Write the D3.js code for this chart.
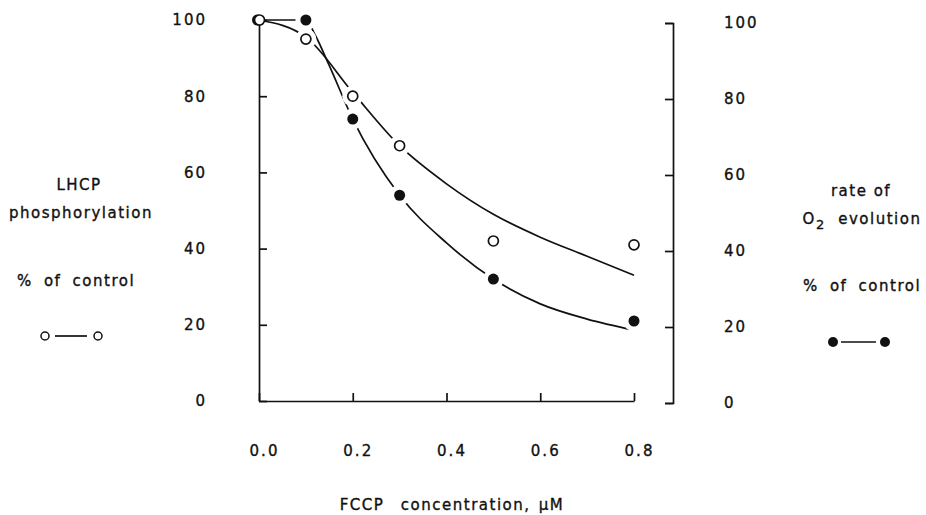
<!DOCTYPE html>
<html>
<head>
<meta charset="utf-8">
<script src="https://cdn.jsdelivr.net/npm/d3@7"></script>
<style>
  body { margin: 0; background: #fff; }
  svg text { font-family: "DejaVu Sans", sans-serif; fill: #111; stroke: #111; stroke-width: 0.35px; }
</style>
</head>
<body>
<svg id="chart"></svg>
<script>
// measured points
const concVals = [0, 0.1, 0.2, 0.3, 0.5, 0.8];
const lhcpVals = [100, 95, 80, 67, 42, 41];
const o2Vals = [100, 100, 74, 54, 32, 21];

// hand-drawn fitted curves
const lhcpFitConc = [0, 0.1, 0.2, 0.3, 0.4, 0.5, 0.6, 0.7, 0.8];
const lhcpFit = [100, 95.5, 81, 67, 57, 49, 43, 38, 33];
const o2FitConc = [0, 0.1, 0.12, 0.15, 0.2, 0.3, 0.4, 0.5, 0.6, 0.7, 0.8];
const o2Fit = [100, 100, 96, 88, 74, 54, 41.5, 32, 25.5, 21.5, 18.6];

const xTicks = [0, 0.2, 0.4, 0.6, 0.8];
const yTicks = [0, 20, 40, 60, 80, 100];

const width = 926;
const height = 515;

const svg = d3.select("#chart").attr("width", width).attr("height", height);

const xScale = d3.scaleLinear().domain([0, 0.8]).range([259, 634]);
const yScale = d3.scaleLinear().domain([0, 100]).range([401, 20]);
const yScaleR = d3.scaleLinear().domain([0, 100]).range([403, 23]);

const styleAxis = (g) => {
    g.selectAll("path, line").attr("stroke", "#111").attr("stroke-width", 1.7);
    g.selectAll("text")
        .attr("fill", "#111")
        .style("font-size", "15px")
        .style("letter-spacing", "2px");
};

// left axis, ticks inward
svg.append("g")
    .attr("transform", "translate(259,0)")
    .call(d3.axisLeft(yScale).tickValues(yTicks).tickSizeInner(-8).tickSizeOuter(0).tickPadding(52))
    .call(styleAxis);

// right axis
svg.append("g")
    .attr("transform", "translate(673,0)")
    .call(d3.axisRight(yScaleR).tickValues(yTicks).tickSizeInner(-8).tickSizeOuter(-8).tickPadding(51))
    .call(styleAxis);

// bottom axis
svg.append("g")
    .attr("transform", "translate(0,401)")
    .call(d3.axisBottom(xScale).tickValues(xTicks).tickFormat(d3.format(".1f"))
        .tickSizeInner(-8).tickSizeOuter(0).tickPadding(44))
    .call(styleAxis)
    .selectAll("text").attr("dx", 5);

svg.selectAll(".domain").attr("fill", "none");

// curves
const line = (xs, vals) => d3.line()
    .x((d, i) => xScale(xs[i]))
    .y((d) => yScale(d))
    .curve(d3.curveMonotoneX)(vals);

svg.append("path").attr("d", line(lhcpFitConc, lhcpFit))
    .attr("fill", "none").attr("stroke", "#111").attr("stroke-width", 1.7);
svg.append("path").attr("d", line(o2FitConc, o2Fit))
    .attr("fill", "none").attr("stroke", "#111").attr("stroke-width", 1.7);

// white halos to break the lines near the markers
const pts = concVals.map((c, i) => ({ c: c, open: lhcpVals[i], filled: o2Vals[i] }));

svg.selectAll(".halo-open")
    .data(pts.filter((d) => d.c > 0))
    .enter().append("circle")
    .attr("class", "halo-open")
    .attr("cx", (d) => xScale(d.c))
    .attr("cy", (d) => yScale(d.open))
    .attr("r", 10.5)
    .attr("fill", "#fff");

svg.selectAll(".halo-filled")
    .data(pts.filter((d) => d.c > 0))
    .enter().append("circle")
    .attr("class", "halo-filled")
    .attr("cx", (d) => xScale(d.c))
    .attr("cy", (d) => yScale(d.filled))
    .attr("r", 10.5)
    .attr("fill", "#fff");

svg.selectAll(".dot-filled")
    .data(pts)
    .enter().append("circle")
    .attr("class", "dot-filled")
    .attr("cx", (d) => xScale(d.c) - (d.c === 0 ? 1.5 : 0))
    .attr("cy", (d) => yScale(d.filled))
    .attr("r", 5.5)
    .attr("fill", "#111");

svg.selectAll(".dot-open")
    .data(pts)
    .enter().append("circle")
    .attr("class", "dot-open")
    .attr("cx", (d) => xScale(d.c) + (d.c === 0 ? 0.5 : 0))
    .attr("cy", (d) => yScale(d.open))
    .attr("r", 5)
    .attr("fill", "#fff")
    .attr("stroke", "#111")
    .attr("stroke-width", 1.7);

// labels
const label = (x, y, txt, anchor) => svg.append("text")
    .attr("x", x).attr("y", y)
    .attr("text-anchor", anchor || "middle")
    .style("font-size", "15px")
    .style("letter-spacing", "1.5px")
    .style("white-space", "pre")
    .text(txt);

label(79, 190, "LHCP");
label(81, 218, "phosphorylation");
label(76, 286, "% of control").style("word-spacing", "5px");

label(861, 196, "rate of");
const o2 = svg.append("text")
    .attr("x", 862).attr("y", 224)
    .attr("text-anchor", "middle")
    .style("font-size", "15px")
    .style("letter-spacing", "1.5px")
    .style("white-space", "pre");
o2.append("tspan").text("O");
o2.append("tspan").attr("dy", 5).style("font-size", "13px").text("2");
o2.append("tspan").attr("dy", -5).text("  evolution");
label(862, 291, "% of control").style("word-spacing", "5px");

label(452, 510, "FCCP  concentration, μM").style("word-spacing", "2px");

// legends
svg.append("line").attr("x1", 55).attr("x2", 87).attr("y1", 336).attr("y2", 336)
    .attr("stroke", "#111").attr("stroke-width", 1.7);
svg.selectAll(".leg-open")
    .data([45, 98])
    .enter().append("circle")
    .attr("class", "leg-open")
    .attr("cx", (d) => d).attr("cy", 336).attr("r", 4)
    .attr("fill", "#fff").attr("stroke", "#111").attr("stroke-width", 1.5);

svg.append("line").attr("x1", 841).attr("x2", 876).attr("y1", 342).attr("y2", 342)
    .attr("stroke", "#111").attr("stroke-width", 1.7);
svg.selectAll(".leg-filled")
    .data([833, 885])
    .enter().append("circle")
    .attr("class", "leg-filled")
    .attr("cx", (d) => d).attr("cy", 342).attr("r", 5)
    .attr("fill", "#111");
</script>
</body>
</html>
